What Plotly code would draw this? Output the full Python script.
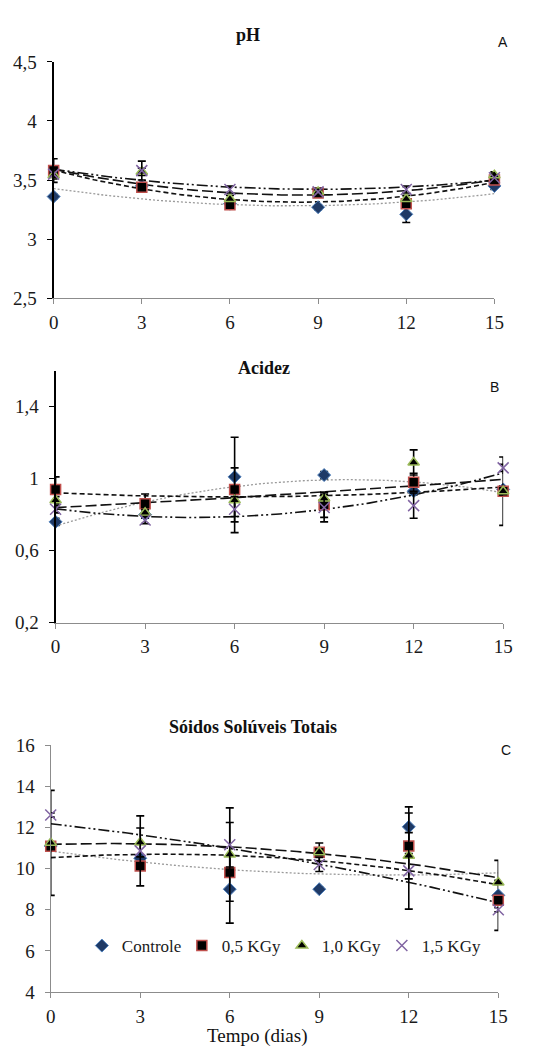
import numpy as np
import plotly.graph_objects as go

dias = [0, 3, 6, 9, 12, 15]
series_names = ["Controle", "0,5 KGy", "1,0 KGy", "1,5 KGy"]

# pH
ph_controle = [3.36, 3.45, 3.30, 3.27, 3.21, 3.45]
ph_05 = [3.58, 3.44, 3.29, 3.39, 3.30, 3.50]
ph_10 = [3.54, 3.57, 3.34, 3.40, 3.34, 3.54]
ph_15 = [3.55, 3.58, 3.42, 3.40, 3.42, 3.52]
ph_err_controle = [0.02, 0.02, 0.02, 0.02, 0.07, 0.03]
ph_err_05 = [0.10, 0.03, 0.03, 0.02, 0.03, 0.03]
ph_err_10 = [0.03, 0.03, 0.03, 0.03, 0.03, 0.03]
ph_err_15 = [0.03, 0.08, 0.03, 0.02, 0.03, 0.04]

# Acidez
ac_controle = [0.76, 0.80, 1.01, 1.02, 0.93, 0.94]
ac_05 = [0.94, 0.86, 0.94, 0.855, 0.98, 0.93]
ac_10 = [0.88, 0.81, 0.88, 0.89, 1.09, 0.93]
ac_15 = [0.83, 0.77, 0.83, 0.84, 0.85, 1.06]
ac_err_controle = [0.02, 0.02, 0.22, 0.02, 0.02, 0.02]
ac_err_05 = [0.07, 0.055, 0.02, 0.07, 0.05, 0.19]
ac_err_10 = [0.02, 0.02, 0.18, 0.02, 0.07, 0.02]
ac_err_15 = [0.02, 0.02, 0.07, 0.08, 0.07, 0.02]

# Sólidos solúveis totais
sst_controle = [11.1, 10.5, 9.0, 9.0, 12.03, 8.7]
sst_05 = [11.08, 10.13, 9.81, 10.8, 11.1, 8.46]
sst_10 = [11.25, 11.27, 10.68, 10.8, 10.63, 9.33]
sst_15 = [12.6, 10.86, 11.16, 10.2, 9.89, 8.0]
sst_err_controle = [0.1, 0.1, 1.65, 0.1, 0.97, 1.7]
sst_err_05 = [0.1, 0.1, 0.1, 0.44, 1.6, 0.1]
sst_err_10 = [2.55, 0.7, 2.27, 0.1, 0.1, 0.1]
sst_err_15 = [0.1, 1.7, 1.08, 0.34, 1.86, 0.1]

ph_ticks = [2.5, 3, 3.5, 4, 4.5]
ph_ticktext = ["2,5", "3", "3,5", "4", "4,5"]
ac_ticks = [0.2, 0.6, 1.0, 1.4]
ac_ticktext = ["0,2", "0,6", "1", "1,4"]
sst_ticks = [4, 6, 8, 10, 12, 14, 16]
sst_ticktext = ["4", "6", "8", "10", "12", "14", "16"]
x_ticks = [0, 3, 6, 9, 12, 15]
x_ticktext = ["0", "3", "6", "9", "12", "15"]

W, H = 555, 1057
SERIF = "'Liberation Serif', 'Times New Roman', Times, serif"
SANS = "'Liberation Sans', Arial, sans-serif"

styles = [
    dict(symbol="diamond", size=10, color="#1F3A66", line=dict(color="#4F81BD", width=1)),
    dict(symbol="square", size=10, color="#000000", line=dict(color="#C0504D", width=1.5)),
    dict(symbol="triangle-up", size=10, color="#000000", line=dict(color="#9BBB59", width=1.5)),
    dict(symbol="x-thin-open", size=11, color="#8064A2", line=dict(color="#8064A2", width=1.5)),
]
trend_styles = [
    dict(color="#9A9A9A", width=1.3, dash="2px,2px"),
    dict(color="#111111", width=1.6, dash="5px,3px"),
    dict(color="#111111", width=1.6, dash="11px,4px"),
    dict(color="#111111", width=1.6, dash="11px,3px,2px,3px,2px,3px"),
]

panels = [
    dict(data=[ph_controle, ph_05, ph_10, ph_15],
         err=[ph_err_controle, ph_err_05, ph_err_10, ph_err_15],
         xd=(50, 503), yd=(53, 294), yr=[2.5, 4.5], tv=ph_ticks, tt=ph_ticktext,
         yline="#000000", xline="#8C8C8C"),
    dict(data=[ac_controle, ac_05, ac_10, ac_15],
         err=[ac_err_controle, ac_err_05, ac_err_10, ac_err_15],
         xd=(52, 512), yd=(368, 625), yr=[0.2, 1.6], tv=ac_ticks, tt=ac_ticktext,
         yline="#000000", xline="#8C8C8C"),
    dict(data=[sst_controle, sst_05, sst_10, sst_15],
         err=[sst_err_controle, sst_err_05, sst_err_10, sst_err_15],
         xd=(47, 507), yd=(750, 1002), yr=[4, 16], tv=sst_ticks, tt=sst_ticktext,
         yline="#8C8C8C", xline="#8C8C8C"),
]

fig = go.Figure()
layout = dict(
    width=W, height=H, margin=dict(l=0, r=0, t=0, b=0),
    paper_bgcolor="white", plot_bgcolor="white",
    font=dict(family=SERIF, size=17, color="#1a1a1a"),
    showlegend=True,
)

xfine = np.linspace(0, 15, 121)
for p_i, p in enumerate(panels):
    suffix = "" if p_i == 0 else str(p_i + 1)
    xa, ya = "x" + suffix, "y" + suffix
    for s_i in range(4):
        coef = np.polyfit(dias, p["data"][s_i], 2)
        fig.add_trace(go.Scatter(
            x=xfine, y=np.polyval(coef, xfine), mode="lines",
            line=trend_styles[s_i], xaxis=xa, yaxis=ya,
            showlegend=False, hoverinfo="skip", cliponaxis=False))
    for s_i in range(4):
        st = styles[s_i]
        fig.add_trace(go.Scatter(
            x=dias, y=p["data"][s_i], mode="markers", name=series_names[s_i],
            marker=dict(symbol=st["symbol"], size=st["size"], color=st["color"], line=st["line"]),
            error_y=dict(type="data", array=p["err"][s_i], color="#000000", thickness=1.6, width=4),
            xaxis=xa, yaxis=ya, showlegend=(p_i == 2), cliponaxis=False))
    layout["xaxis" + suffix] = dict(
        domain=[p["xd"][0] / W, p["xd"][1] / W], range=[0, 15], anchor=ya,
        tickvals=x_ticks, ticktext=x_ticktext, ticks="outside", ticklen=5, tickwidth=1,
        tickcolor=p["xline"], showline=True, linecolor=p["xline"], linewidth=1.2,
        showgrid=False, zeroline=False, ticklabelstandoff=2,
        tickfont=dict(family=SERIF, size=19, color="#1a1a1a"))
    layout["yaxis" + suffix] = dict(
        domain=[1 - p["yd"][1] / H, 1 - p["yd"][0] / H], range=p["yr"], anchor=xa,
        tickvals=p["tv"], ticktext=p["tt"], ticks="outside", ticklen=5, tickwidth=1,
        tickcolor=p["yline"], showline=True, linecolor=p["yline"],
        linewidth=2 if p["yline"] == "#000000" else 1.2,
        showgrid=False, zeroline=False, ticklabelstandoff=6,
        tickfont=dict(family=SERIF, size=19, color="#1a1a1a"))

titles = [("<b>pH</b>", 250, 25), ("<b>Acidez</b>", 266, 365),
          ("<b>Sóidos Solúveis Totais</b>", 255, 732)]
letters = [("A", 512, 33), ("B", 503, 385), ("C", 515, 755)]
ann = []
for t, x, y in titles:
    ann.append(dict(text=t, x=x / W, y=1 - y / H, xref="paper", yref="paper",
                    showarrow=False, xanchor="center", yanchor="middle",
                    font=dict(family=SERIF, size=18, color="#111111")))
for t, x, y in letters:
    ann.append(dict(text=t, x=x / W, y=1 - y / H, xref="paper", yref="paper",
                    showarrow=False, xanchor="center", yanchor="middle",
                    font=dict(family=SANS, size=14, color="#111111")))
ann.append(dict(text="Tempo (dias)", x=260 / W, y=1 - 1047 / H, xref="paper", yref="paper",
                showarrow=False, xanchor="center", yanchor="middle",
                font=dict(family=SERIF, size=19, color="#111111")))
layout["annotations"] = ann
layout["legend"] = dict(orientation="h", x=79 / W, y=1 - 955 / H, xanchor="left", yanchor="middle",
                        bgcolor="rgba(0,0,0,0)", font=dict(family=SERIF, size=17),
                        itemwidth=30, entrywidth=55, entrywidthmode="pixels", tracegroupgap=0)
fig.update_layout(**layout)
fig.write_html("out.html")
